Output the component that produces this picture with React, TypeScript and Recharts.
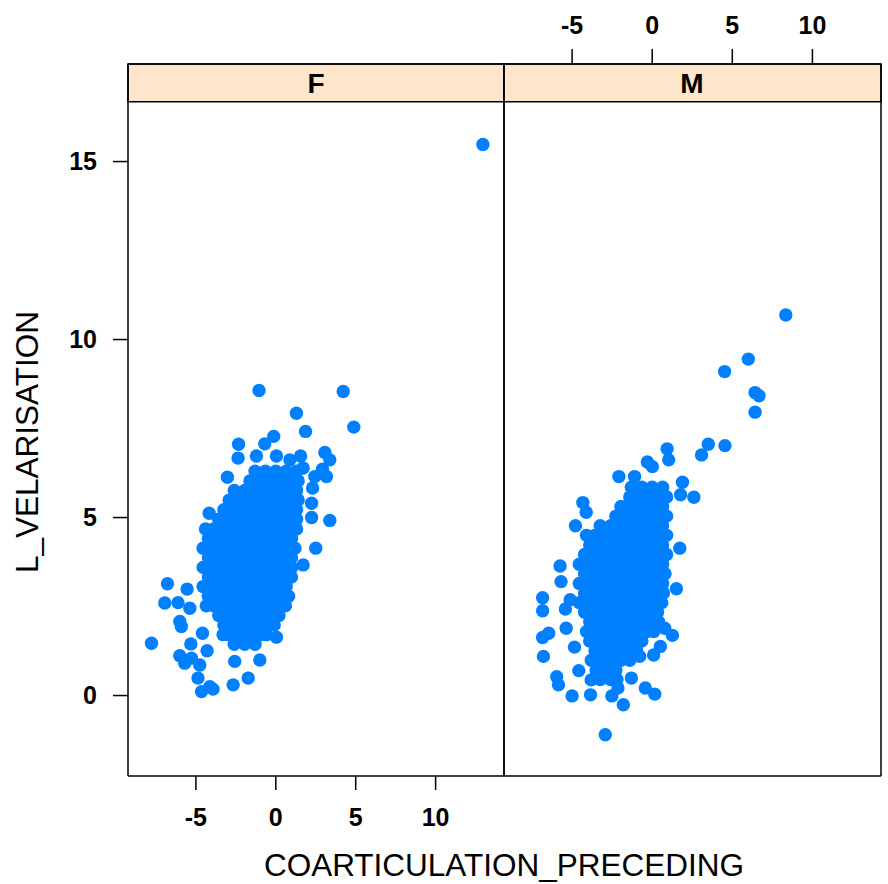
import {
  ScatterChart,
  Scatter,
  XAxis,
  YAxis,
  ReferenceArea,
} from 'recharts';

// axis setup
const X_TICKS = [-5, 0, 5, 10];
const Y_TICKS = [0, 5, 10, 15];
const X_DOMAIN: [number, number] = [-9.25, 14.28];
const Y_DOMAIN: [number, number] = [-2.26, 17.74];
const STRIP_BOTTOM = 16.68;
const PANELS = ['F', 'M'];

// F panel: stray points
const F_OUT: [number, number][] = [
  [-1.05, 8.57], [4.22, 8.54], [1.29, 7.93], [4.88, 7.54], [1.86, 7.42], [-0.13, 7.28],
  [-0.69, 7.07], [-2.33, 7.06], [-2.36, 6.67], [-1.21, 6.73], [0.04, 6.73], [0.88, 6.62],
  [1.55, 6.73], [3.07, 6.83], [3.38, 6.62], [1.71, 6.39], [2.92, 6.36], [2.44, 6.15],
  [3.17, 6.15], [-3.03, 6.13], [2.3, 5.83], [2.24, 5.4], [3.38, 4.92], [2.24, 5.0],
  [-4.17, 5.12], [2.5, 4.14], [1.71, 3.67], [-6.78, 3.14], [-5.55, 2.99], [-6.95, 2.6],
  [-6.12, 2.61], [-5.38, 2.45], [-6.01, 2.08], [-5.91, 1.94], [-7.78, 1.47], [-4.59, 1.75],
  [-5.32, 1.45], [-4.3, 1.26], [-6.01, 1.12], [-5.28, 1.05], [-4.76, 0.86], [-5.7, 0.91],
  [0.04, 1.64], [-1.0, 1.0], [-2.57, 0.96], [-4.87, 0.49], [-4.13, 0.25], [-4.65, 0.11],
  [-3.93, 0.18], [-2.67, 0.3], [-1.73, 0.49], [12.96, 15.48],
];

// F panel: dense cloud, one row per y level
const F_ROWS: [number, number[]][] = [
  [6.3, [-1.3, -0.65, 0, 0.65, 1.3]],
  [6.03, [-1.62, -0.97, -0.32, 0.33, 0.98, 1.4]],
  [5.76, [-2.6, -1.95, -1.3, -0.65, 0, 0.65, 1.3]],
  [5.49, [-2.92, -2.27, -1.62, -0.97, -0.32, 0.33, 0.98, 1.4]],
  [5.22, [-3.25, -2.6, -1.95, -1.3, -0.65, 0, 0.65, 1.3]],
  [4.95, [-3.57, -2.92, -2.27, -1.62, -0.97, -0.32, 0.33, 0.98, 1.3]],
  [4.68, [-4.4, -3.9, -3.25, -2.6, -1.95, -1.3, -0.65, 0, 0.65, 1.3]],
  [4.41, [-4.22, -3.57, -2.92, -2.27, -1.62, -0.97, -0.32, 0.33, 0.98]],
  [4.14, [-4.55, -3.9, -3.25, -2.6, -1.95, -1.3, -0.65, 0, 0.65, 1.2]],
  [3.87, [-4.22, -3.57, -2.92, -2.27, -1.62, -0.97, -0.32, 0.33, 0.98]],
  [3.6, [-4.55, -3.9, -3.25, -2.6, -1.95, -1.3, -0.65, 0, 0.65, 1.0]],
  [3.33, [-4.22, -3.57, -2.92, -2.27, -1.62, -0.97, -0.32, 0.33, 0.98]],
  [3.06, [-4.55, -3.9, -3.25, -2.6, -1.95, -1.3, -0.65, 0, 0.65]],
  [2.79, [-4.22, -3.57, -2.92, -2.27, -1.62, -0.97, -0.32, 0.33, 0.8]],
  [2.52, [-4.35, -3.9, -3.25, -2.6, -1.95, -1.3, -0.65, 0, 0.6]],
  [2.25, [-3.57, -2.92, -2.27, -1.62, -0.97, -0.32, 0.2]],
  [1.98, [-3.25, -2.6, -1.95, -1.3, -0.65, -0.1]],
  [1.71, [-3.3, -2.92, -2.27, -1.62, -0.97, -0.6]],
  [1.44, [-2.6, -1.95, -1.3]],
];

// M panel: stray points
const M_OUT: [number, number][] = [
  [8.34, 10.69], [6.0, 9.45], [4.52, 9.1], [6.42, 8.51], [6.67, 8.42], [6.42, 7.96],
  [3.5, 7.06], [4.54, 7.02], [3.08, 6.76], [0.93, 6.93], [1.03, 6.62], [-0.3, 6.56],
  [0.01, 6.43], [-2.08, 6.15], [-1.1, 6.15], [1.89, 5.99], [2.6, 5.57], [1.77, 5.64],
  [-4.33, 5.42], [-4.12, 5.15], [-4.79, 4.77], [1.72, 4.14], [-5.75, 3.64], [-5.69, 3.2],
  [1.51, 3.0], [-6.84, 2.75], [-6.84, 2.38], [-5.42, 2.43], [-5.12, 2.69], [-6.46, 1.75],
  [-6.84, 1.63], [-5.37, 1.89], [-6.79, 1.1], [-4.85, 1.36], [1.26, 1.69], [0.78, 1.89],
  [0.51, 1.38], [0.09, 1.14], [-0.78, 1.1], [-4.58, 0.7], [-5.96, 0.53], [-5.85, 0.3],
  [-5.0, -0.01], [-3.85, 0.02], [-2.52, -0.01], [-1.3, 0.49], [-0.43, 0.21], [0.16, 0.04],
  [-1.8, -0.26], [-2.93, -1.1], [-3.81, 0.44], [-2.14, 0.21],
];

// M panel: dense cloud
const M_ROWS: [number, number[]][] = [
  [5.85, [-1.3, -0.65, 0, 0.65]],
  [5.58, [-1.4, -0.97, -0.32, 0.33, 0.9]],
  [5.31, [-1.95, -1.3, -0.65, 0, 0.65]],
  [5.04, [-2.27, -1.62, -0.97, -0.32, 0.33, 0.9]],
  [4.77, [-3.25, -2.6, -1.95, -1.3, -0.65, 0, 0.65]],
  [4.5, [-4.1, -3.57, -2.92, -2.27, -1.62, -0.97, -0.32, 0.33, 0.9]],
  [4.23, [-3.9, -3.25, -2.6, -1.95, -1.3, -0.65, 0, 0.65]],
  [3.96, [-4.22, -3.57, -2.92, -2.27, -1.62, -0.97, -0.32, 0.33, 0.9]],
  [3.69, [-4.55, -3.9, -3.25, -2.6, -1.95, -1.3, -0.65, 0, 0.65]],
  [3.42, [-4.22, -3.57, -2.92, -2.27, -1.62, -0.97, -0.32, 0.33, 0.8]],
  [3.15, [-4.55, -3.9, -3.25, -2.6, -1.95, -1.3, -0.65, 0, 0.65]],
  [2.88, [-4.22, -3.57, -2.92, -2.27, -1.62, -0.97, -0.32, 0.33, 0.7]],
  [2.61, [-4.55, -3.9, -3.25, -2.6, -1.95, -1.3, -0.65, 0, 0.6]],
  [2.34, [-4.22, -3.57, -2.92, -2.27, -1.62, -0.97, -0.32, 0.33]],
  [2.07, [-3.9, -3.25, -2.6, -1.95, -1.3, -0.65, 0, 0.4]],
  [1.8, [-4.1, -3.57, -2.92, -2.27, -1.62, -0.97, -0.32, 0.1]],
  [1.53, [-3.9, -3.25, -2.6, -1.95, -1.3, -0.65]],
  [1.26, [-3.57, -2.92, -2.27, -1.62, -0.97]],
  [0.99, [-3.8, -3.25, -2.6, -1.95, -1.4]],
  [0.72, [-3.5, -2.92, -2.27]],
  [0.45, [-3.25, -2.6, -2.2]],
];

const toPoints = (out: [number, number][], rows: [number, number[]][]) => [
  ...out.map(([x, y]) => ({ x, y })),
  ...rows.flatMap(([y, xs]) => xs.map((x) => ({ x, y }))),
];

const fData = toPoints(F_OUT, F_ROWS);
const mData = toPoints(M_OUT, M_ROWS);

const FONT = '"Liberation Sans", Arial, Helvetica, sans-serif';
const AXIS_W = 1.5;

const Dot = (props: any) => {
  const { cx, cy } = props;
  return <circle cx={cx} cy={cy} r={6.7} fill="#0080FF" />;
};

function Panel({ data, first }: { data: any[]; first: boolean }) {
  // axes are 1px thick so recharts still draws them; margins make up for it
  const margin = first
    ? { top: 63, right: 383, bottom: 107, left: 127 }
    : { top: 63, right: 6, bottom: 107, left: 503 };
  const tickText = { fill: '#000', fontSize: 25, fontWeight: 'bold' };
  return (
    <ScatterChart
      width={888}
      height={884}
      margin={margin}
      style={{ position: 'absolute', left: 0, top: 0 }}
    >
      <XAxis
        xAxisId="b"
        type="number"
        dataKey="x"
        domain={X_DOMAIN}
        ticks={X_TICKS}
        interval={0}
        allowDataOverflow
        orientation="bottom"
        height={1}
        tickSize={14}
        tickMargin={18}
        stroke="#000"
        strokeWidth={AXIS_W}
        tick={first ? tickText : false}
      />
      <XAxis
        xAxisId="t"
        type="number"
        dataKey="x"
        domain={X_DOMAIN}
        ticks={X_TICKS}
        interval={0}
        allowDataOverflow
        orientation="top"
        height={1}
        tickSize={15}
        tickMargin={15}
        stroke="#000"
        strokeWidth={AXIS_W}
        tick={first ? false : tickText}
      />
      <YAxis
        yAxisId="l"
        type="number"
        dataKey="y"
        domain={Y_DOMAIN}
        ticks={Y_TICKS}
        interval={0}
        allowDataOverflow
        width={1}
        tickSize={15}
        tickMargin={16}
        stroke="#000"
        strokeWidth={AXIS_W}
        tickLine={first}
        tick={first ? tickText : false}
      />
      <YAxis
        yAxisId="r"
        orientation="right"
        type="number"
        dataKey="y"
        domain={Y_DOMAIN}
        ticks={Y_TICKS}
        interval={0}
        allowDataOverflow
        width={1}
        tickSize={8}
        stroke="#000"
        strokeWidth={AXIS_W}
        tickLine={!first}
        tick={false}
      />
      <ReferenceArea
        xAxisId="b"
        yAxisId="l"
        y1={STRIP_BOTTOM}
        y2={Y_DOMAIN[1]}
        fill="#FFE5CC"
        fillOpacity={1}
        stroke="#000"
        strokeWidth={AXIS_W}
      />
      <Scatter
        xAxisId="b"
        yAxisId="l"
        data={data}
        shape={<Dot />}
        isAnimationActive={false}
      />
    </ScatterChart>
  );
}

const stripText = (left: number): React.CSSProperties => ({
  position: 'absolute',
  left,
  top: 84,
  transform: 'translate(-50%, -50%)',
  fontSize: 28,
  fontWeight: 'bold',
  lineHeight: 1,
});

export default function App() {
  return (
    <div
      style={{
        position: 'absolute',
        left: 0,
        top: 0,
        width: 888,
        height: 884,
        background: '#fff',
        fontFamily: FONT,
        color: '#000',
      }}
    >
      <Panel data={fData} first />
      <Panel data={mData} first={false} />
      <div style={stripText(316)}>{PANELS[0]}</div>
      <div style={stripText(692)}>{PANELS[1]}</div>
      <div
        style={{
          position: 'absolute',
          left: 504,
          top: 866,
          transform: 'translate(-50%, -50%)',
          fontSize: 31.5,
          lineHeight: 1,
          whiteSpace: 'nowrap',
        }}
      >
        COARTICULATION_PRECEDING
      </div>
      <div
        style={{
          position: 'absolute',
          left: 28,
          top: 442,
          transform: 'translate(-50%, -50%) rotate(-90deg)',
          fontSize: 31.5,
          lineHeight: 1,
          whiteSpace: 'nowrap',
        }}
      >
        L_VELARISATION
      </div>
    </div>
  );
}
